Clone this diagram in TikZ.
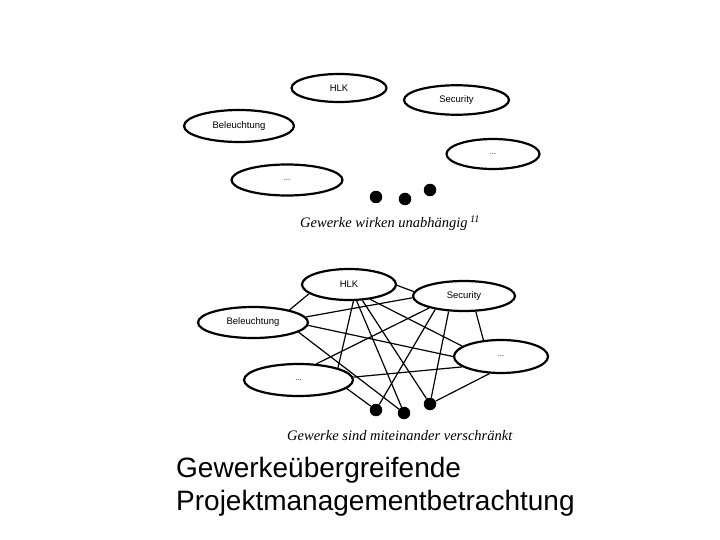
\documentclass[tikz,border=0pt]{standalone}
\usepackage{fontspec}
\setmainfont{Liberation Serif}
\setsansfont{Liberation Sans}
\usetikzlibrary{shapes.geometric}

\begin{document}
\begin{tikzpicture}[x=1pt, y=-1pt,
    gewerk/.style={draw, ellipse, fill=white, line width=2.2pt, inner sep=0pt, font=\sffamily\fontsize{9.5}{11}\selectfont},
    leer/.style={font=\sffamily\fontsize{7.5}{9}\selectfont},
    punkt/.style={circle, fill, inner sep=0pt, minimum size=12.5pt},
    verbindung/.style={line width=1.2pt},
    unterschrift/.style={anchor=base west, inner sep=0pt, font=\rmfamily\itshape\fontsize{14.5}{17}\selectfont}]
    \useasboundingbox (0, 0) rectangle (720, 540);

    \node [gewerk, minimum width=95pt, minimum height=28pt] (hlkA) at (339, 88) {HLK};
    \node [gewerk, minimum width=105pt, minimum height=29.5pt] (secA) at (456.5, 100) {Security};
    \node [gewerk, minimum width=110pt, minimum height=32pt] (belA) at (239, 126) {Beleuchtung};
    \node [gewerk, leer, minimum width=93pt, minimum height=30pt] (restRA) at (493, 154) {...};
    \node [gewerk, leer, minimum width=111pt, minimum height=31pt] (restLA) at (287, 180) {...};
    \node [punkt] (pA1) at (376, 197) {};
    \node [punkt] (pA2) at (405, 199) {};
    \node [punkt] (pA3) at (430, 190) {};
    \node [unterschrift] (textA) at (300, 228) {Gewerke wirken unabhängig\,\textsuperscript{11}};

    \node [gewerk, minimum width=94pt, minimum height=31pt] (hlkB) at (349, 284.5) {HLK};
    \node [gewerk, minimum width=102pt, minimum height=30pt] (secB) at (464, 296) {Security};
    \node [gewerk, minimum width=110pt, minimum height=31pt] (belB) at (253, 322.5) {Beleuchtung};
    \node [gewerk, leer, minimum width=94pt, minimum height=33pt] (restRB) at (501, 356.5) {...};
    \node [gewerk, leer, minimum width=109pt, minimum height=32pt] (restLB) at (298.5, 380) {...};
    \node [punkt] (pB1) at (376, 410) {};
    \node [punkt] (pB2) at (404, 413) {};
    \node [punkt] (pB3) at (430, 404) {};
    \node [unterschrift] (textB) at (287, 440) {Gewerke sind miteinander verschränkt};

    \draw [verbindung] (hlkB.193) -- (belB.19);
    \draw [verbindung] (hlkB.-1) -- (secB.175);
    \draw [verbindung] (belB.6) -- (secB.182);
    \draw [verbindung] (hlkB.-75) -- (restLB.17);
    \draw [verbindung] (hlkB.-65) -- (pB2);
    \draw [verbindung] (hlkB.-50) -- (pB3);
    \draw [verbindung] (hlkB.-35) -- (restRB.165);
    \draw [verbindung] (belB.-3) -- (restRB.180);
    \draw [verbindung] (belB.-12) -- (pB2);
    \draw [verbindung] (secB.199) -- (restLB.42);
    \draw [verbindung] (secB.205) -- (pB1);
    \draw [verbindung] (secB.225) -- (pB3);
    \draw [verbindung] (secB.-53) -- (restRB.137);
    \draw [verbindung] (restLB.3) -- (restRB.195);
    \draw [verbindung] (restLB.-10) -- (pB1);
    \draw [verbindung] (restRB.236) -- (pB3);

    \node [anchor=north west, inner sep=0pt, align=left, font=\sffamily\fontsize{28}{33}\selectfont] (titel) at (176, 456.6) {Gewerkeübergreifende\\Projektmanagementbetrachtung};
\end{tikzpicture}
\end{document}
